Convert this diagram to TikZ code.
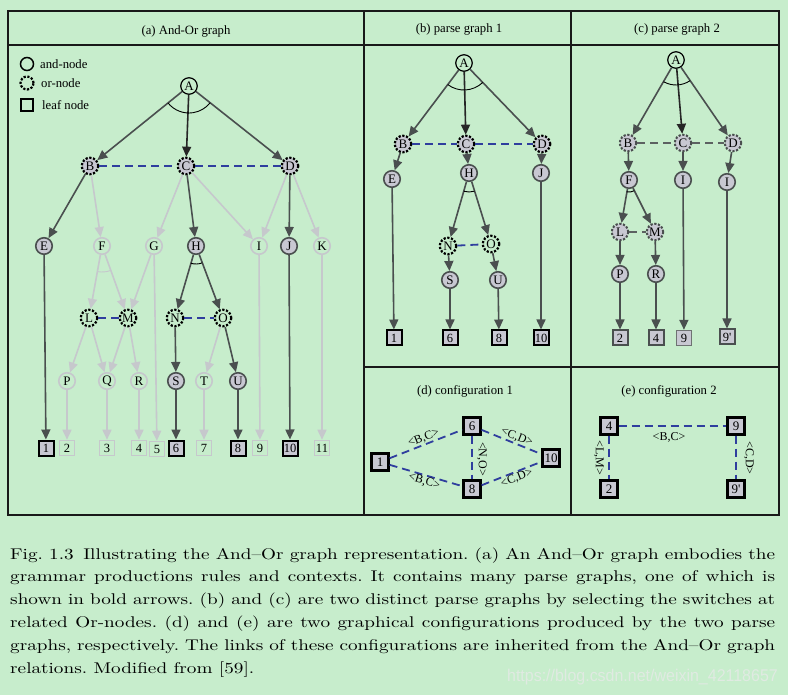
\documentclass[tikz,border=0pt]{standalone}
\usepackage{fontspec}
\newfontfamily\tms{Liberation Serif}
\newfontfamily\wmk{Liberation Sans}
\usetikzlibrary{arrows.meta,angles}
\definecolor{bgc}{HTML}{C7EDCC}
\definecolor{nfill}{HTML}{C8C8D2}
\definecolor{dk}{HTML}{4A4F4F}
\definecolor{lt}{HTML}{C6C8CC}
\definecolor{bl}{HTML}{2F3E9E}
\definecolor{wm}{RGB}{224,234,226}
\tikzset{
  gn/.style={circle, minimum size=16.5pt, inner sep=0pt, font=\tms\fontsize{13}{13}\selectfont},
  topn/.style={gn, draw=black, line width=1.2pt},
  orf/.style={gn, draw=black, fill=nfill, line width=2.2pt, dash pattern=on 2.2pt off 1.6pt},
  oro/.style={gn, draw=black, line width=2.2pt, dash pattern=on 2.2pt off 1.6pt},
  orc/.style={gn, draw=dk, fill=nfill, line width=2pt, dash pattern=on 2.2pt off 1.6pt},
  andf/.style={gn, draw=dk, fill=nfill, line width=1.6pt},
  lite/.style={gn, draw=lt, line width=1.6pt},
  leafb/.style={rectangle, minimum size=15pt, inner sep=0pt, draw=black, fill=nfill, line width=2pt, font=\tms\fontsize{12.5}{12.5}\selectfont},
  leafl/.style={rectangle, minimum size=15pt, inner sep=0pt, draw=lt, line width=1.6pt, font=\tms\fontsize{12.5}{12.5}\selectfont},
  leafc/.style={leafb, draw=dk!80, line width=1.4pt},
  cbox/.style={rectangle, minimum size=17pt, inner sep=1pt, draw=black, fill=nfill, line width=2.2pt, font=\tms\fontsize{13}{13}\selectfont},
  tip/.style={-{Triangle[length=10pt,width=9pt]}},
  de/.style={draw=dk, line width=1.6pt, tip},
  ke/.style={draw=black!85, line width=1.6pt, tip},
  le/.style={draw=lt, line width=1.6pt, tip},
  bdash/.style={draw=bl, line width=1.8pt, dash pattern=on 8pt off 5pt},
  gdash/.style={draw=dk!90, line width=1.8pt, dash pattern=on 8pt off 5pt},
  lab/.style={font=\tms\fontsize{12}{12}\selectfont, inner sep=0.5pt},
  ttl/.style={font=\tms\fontsize{12.7}{12.7}\selectfont},
  frm/.style={draw=black!90, line width=1.2pt},
  andarc/.style={draw=black, line width=0.9pt},
}
\begin{document}
\begin{tikzpicture}[x=1pt,y=-1pt]
\useasboundingbox (0,0) rectangle (788,695);
\fill[bgc] (0,0) rectangle (788,695);

% panel frames
\draw[frm] (8,11) rectangle (779,515);
\draw[frm] (8,45) -- (779,45);
\draw[frm] (364,11) -- (364,515);
\draw[frm] (571,11) -- (571,515);
\draw[frm] (364,367) -- (779,367);

% panel titles
\node[ttl] (ta) at (186,31) {(a) And-Or graph};
\node[ttl] (tb) at (459,29) {(b) parse graph 1};
\node[ttl] (tc) at (677,29) {(c) parse graph 2};
\node[ttl] (td) at (465,391) {(d) configuration 1};
\node[ttl] (te) at (669,391) {(e) configuration 2};

% legend
\node[circle, draw=black, line width=1.5pt, minimum size=13pt, inner sep=0pt] (lga) at (27,64) {};
\node[circle, draw=black, line width=2.2pt, dash pattern=on 2.2pt off 1.6pt, minimum size=13pt, inner sep=0pt] (lgo) at (27,83) {};
\node[rectangle, draw=black, line width=2pt, minimum size=12pt, inner sep=0pt] (lgl) at (27,105) {};
\node[ttl, anchor=west, inner sep=0pt] (lgat) at (40,64) {and-node};
\node[ttl, anchor=west, inner sep=0pt] (lgot) at (41,83) {or-node};
\node[ttl, anchor=west, inner sep=0pt] (lglt) at (42,105) {leaf node};

% ---------- (a) And-Or graph ----------
\node[topn] (aA) at (189,86) {A};
\node[orf] (aB) at (90,166) {B};
\node[orf] (aC) at (186,166) {C};
\node[orf] (aD) at (290,166) {D};
\node[andf] (aE) at (44,246) {E};
\node[lite] (aF) at (102,246) {F};
\node[lite] (aG) at (154,246) {G};
\node[andf] (aH) at (196,246) {H};
\node[lite] (aI) at (259,246) {I};
\node[andf] (aJ) at (289,246) {J};
\node[lite] (aK) at (322,246) {K};
\node[oro] (aL) at (89,318) {L};
\node[oro] (aM) at (128,318) {M};
\node[oro] (aN) at (175,318) {N};
\node[oro] (aO) at (223,318) {O};
\node[lite] (aP) at (67,381) {P};
\node[lite] (aQ) at (107,381) {Q};
\node[lite] (aR) at (139,381) {R};
\node[andf] (aS) at (176,381) {S};
\node[lite] (aT) at (204,381) {T};
\node[andf] (aU) at (238,381) {U};
\node[leafb] (a1) at (46,448) {1};
\node[leafl] (a2) at (67,448) {2};
\node[leafl] (a3) at (107,448) {3};
\node[leafl] (a4) at (139,448) {4};
\node[leafl] (a5) at (157,449) {5};
\node[leafb] (a6) at (176,448) {6};
\node[leafl] (a7) at (204,448) {7};
\node[leafb] (a8) at (238,448) {8};
\node[leafl] (a9) at (260,448) {9};
\node[leafb] (a10) at (290,448) {10};
\node[leafl] (a11) at (322,448) {11};

% unselected branches
\foreach \s/\t in {aB/aF, aC/aG, aC/aI, aD/aI, aD/aK, aF/aL, aF/aM, aG/aM, aG/a5,
                   aL/aP, aL/aQ, aM/aQ, aM/aR, aO/aT, aP/a2, aQ/a3, aR/a4, aT/a7, aI/a9, aK/a11}
  \draw[le] (\s) -- (\t);
% selected parse graph
\foreach \s/\t in {aA/aB, aA/aD, aB/aE, aC/aH, aD/aJ, aH/aN, aH/aO, aN/aS, aO/aU,
                   aE/a1, aS/a6, aU/a8, aJ/a10}
  \draw[de] (\s) -- (\t);
\draw[ke] (aA) -- (aC);
% contextual relations
\draw[bdash] (aB) -- (aC);
\draw[bdash] (aC) -- (aD);
\draw[bdash] (aL) -- (aM);
\draw[bdash] (aN) -- (aO);
% and-arcs
\pic[andarc, angle radius=27pt] {angle=aB--aA--aD};
\pic[andarc, angle radius=18pt] {angle=aN--aH--aO};
\pic[draw=lt, line width=0.9pt, angle radius=26pt] {angle=aL--aF--aM};

% ---------- (b) parse graph 1 ----------
\node[topn] (bA) at (464,63) {A};
\node[orf] (bB) at (403,144) {B};
\node[orf] (bC) at (466,144) {C};
\node[orf] (bD) at (542,144) {D};
\node[andf] (bE) at (392,179) {E};
\node[andf] (bH) at (469,173) {H};
\node[andf] (bJ) at (541,173) {J};
\node[oro] (bN) at (448,246) {N};
\node[oro] (bO) at (491,244) {O};
\node[andf] (bS) at (450,280) {S};
\node[andf] (bU) at (498,280) {U};
\node[leafb] (b1) at (394,338) {1};
\node[leafb] (b6) at (450,338) {6};
\node[leafb] (b8) at (499,338) {8};
\node[leafb] (b10) at (541,338) {10};
\foreach \s/\t in {bA/bB, bA/bD, bB/bE, bC/bH, bD/bJ, bH/bN, bH/bO, bN/bS, bO/bU,
                   bE/b1, bS/b6, bU/b8, bJ/b10}
  \draw[de] (\s) -- (\t);
\draw[ke] (bA) -- (bC);
\draw[bdash] (bB) -- (bC);
\draw[bdash] (bC) -- (bD);
\draw[bdash] (bN) -- (bO);
\pic[andarc, angle radius=27pt] {angle=bB--bA--bD};
\pic[andarc, angle radius=19pt] {angle=bN--bH--bO};

% ---------- (c) parse graph 2 ----------
\node[topn] (cA) at (676,60) {A};
\node[orc] (cB) at (628,143) {B};
\node[orc] (cC) at (683,143) {C};
\node[orc] (cD) at (733,143) {D};
\node[andf] (cF) at (629,180) {F};
\node[andf] (cI1) at (683,180) {I};
\node[andf] (cI2) at (727,182) {I};
\node[orc] (cL) at (620,232) {L};
\node[orc] (cM) at (655,232) {M};
\node[andf] (cP) at (620,274) {P};
\node[andf] (cR) at (656,274) {R};
\node[leafb, draw=dk] (c2) at (620,338) {2};
\node[leafb, draw=dk] (c4) at (656,338) {4};
\node[leafc] (c9) at (684,338) {9};
\node[leafb, draw=dk] (c9p) at (727,337) {9'};
\foreach \s/\t in {cA/cB, cA/cD, cB/cF, cC/cI1, cD/cI2, cF/cL, cF/cM, cL/cP, cM/cR,
                   cP/c2, cR/c4, cI1/c9, cI2/c9p}
  \draw[de] (\s) -- (\t);
\draw[ke] (cA) -- (cC);
\draw[gdash] (cB) -- (cC);
\draw[gdash] (cC) -- (cD);
\draw[gdash] (cL) -- (cM);
\pic[andarc, angle radius=25pt] {angle=cB--cA--cD};
\pic[andarc, angle radius=12pt] {angle=cL--cF--cM};

% ---------- (d) configuration 1 ----------
\node[cbox] (d1) at (380,462) {1};
\node[cbox] (d6) at (472,426) {6};
\node[cbox] (d10) at (551,458) {10};
\node[cbox] (d8) at (472,489) {8};
\draw[bdash] (d1) -- node[lab, sloped, above] (l16) {<B,C>} (d6);
\draw[bdash] (d1) -- node[lab, sloped, below] (l18) {<B,C>} (d8);
\draw[bdash] (d6) -- node[lab, sloped, above, pos=0.55] (l610) {<C,D>} (d10);
\draw[bdash] (d8) -- node[lab, sloped, below, pos=0.55] (l810) {<C,D>} (d10);
\draw[bdash] (d6) -- (d8);
\node[lab, rotate=-90] (l68) at (482,459) {<N,O>};

% ---------- (e) configuration 2 ----------
\node[cbox] (e4) at (609,426) {4};
\node[cbox] (e9) at (736,426) {9};
\node[cbox] (e2) at (609,489) {2};
\node[cbox] (e9p) at (736,489) {9'};
\draw[bdash] (e4) -- (e9);
\draw[bdash] (e4) -- (e2);
\draw[bdash] (e9) -- (e9p);
\node[lab] (l49) at (669,437) {<B,C>};
\node[lab, rotate=-90] (l42) at (599,458) {<L,M>};
\node[lab, rotate=-90] (l99) at (749,458) {<C,D>};

% caption
\node[anchor=base west, inner sep=0pt] (cap) at (10,559) {\scalebox{1.92}[1.55]{\parbox[t]{398.4pt}{%
\fontsize{10}{14.77}\selectfont\frenchspacing\tolerance=10000\hyphenpenalty=10000
Fig.~1.3\enspace Illustrating the And--Or graph representation. (a) An And--Or graph embodies the\linebreak
grammar productions rules and contexts. It contains many parse graphs, one of which is\linebreak
shown in bold arrows. (b) and (c) are two distinct parse graphs by selecting the switches at\linebreak
related Or-nodes. (d) and (e) are two graphical configurations produced by the two parse\linebreak
graphs, respectively. The links of these configurations are inherited from the And--Or graph\linebreak
relations. Modified from [59].}}};

\node[anchor=base east, inner sep=0pt, text=wm] (wmk) at (778,681)
  {\scalebox{0.94}[1]{\wmk\fontsize{17}{17}\selectfont https://blog.csdn.net/weixin\_42118657}};
\end{tikzpicture}
\end{document}
